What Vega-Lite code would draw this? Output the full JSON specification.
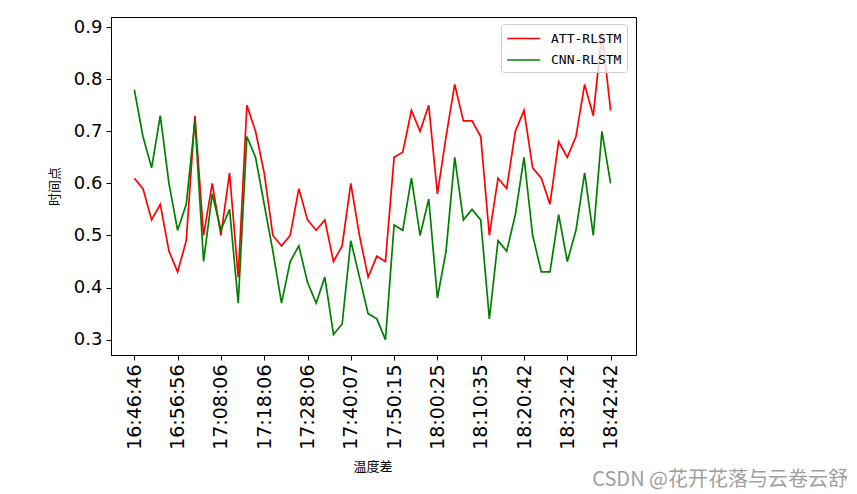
{
  "$schema": "https://vega.github.io/schema/vega-lite/v6.json",
  "width": 525,
  "height": 338,
  "autosize": "none",
  "padding": {"left": 111, "top": 17, "right": 221, "bottom": 139},
  "background": "white",
  "title": {
    "text": "CSDN @花开花落与云卷云舒",
    "orient": "bottom",
    "anchor": "end",
    "frame": "group",
    "dx": 212,
    "dy": -11,
    "offset": 8,
    "font": "Noto Sans CJK SC",
    "fontSize": 20,
    "fontWeight": "normal",
    "color": "#a0a0a0"
  },
  "data": {
    "values": [
      {"time": "16:46:46", "ATT-RLSTM": 0.61, "CNN-RLSTM": 0.78},
      {"time": "16:48:48", "ATT-RLSTM": 0.59, "CNN-RLSTM": 0.69},
      {"time": "16:50:50", "ATT-RLSTM": 0.53, "CNN-RLSTM": 0.63},
      {"time": "16:52:52", "ATT-RLSTM": 0.56, "CNN-RLSTM": 0.73},
      {"time": "16:54:54", "ATT-RLSTM": 0.47, "CNN-RLSTM": 0.60},
      {"time": "16:56:56", "ATT-RLSTM": 0.43, "CNN-RLSTM": 0.51},
      {"time": "16:59:10", "ATT-RLSTM": 0.49, "CNN-RLSTM": 0.56},
      {"time": "17:01:24", "ATT-RLSTM": 0.73, "CNN-RLSTM": 0.72},
      {"time": "17:03:38", "ATT-RLSTM": 0.50, "CNN-RLSTM": 0.45},
      {"time": "17:05:52", "ATT-RLSTM": 0.60, "CNN-RLSTM": 0.58},
      {"time": "17:08:06", "ATT-RLSTM": 0.50, "CNN-RLSTM": 0.51},
      {"time": "17:10:06", "ATT-RLSTM": 0.62, "CNN-RLSTM": 0.55},
      {"time": "17:12:06", "ATT-RLSTM": 0.42, "CNN-RLSTM": 0.37},
      {"time": "17:14:06", "ATT-RLSTM": 0.75, "CNN-RLSTM": 0.69},
      {"time": "17:16:06", "ATT-RLSTM": 0.70, "CNN-RLSTM": 0.65},
      {"time": "17:18:06", "ATT-RLSTM": 0.62, "CNN-RLSTM": 0.56},
      {"time": "17:20:06", "ATT-RLSTM": 0.50, "CNN-RLSTM": 0.47},
      {"time": "17:22:06", "ATT-RLSTM": 0.48, "CNN-RLSTM": 0.37},
      {"time": "17:24:06", "ATT-RLSTM": 0.50, "CNN-RLSTM": 0.45},
      {"time": "17:26:06", "ATT-RLSTM": 0.59, "CNN-RLSTM": 0.48},
      {"time": "17:28:06", "ATT-RLSTM": 0.53, "CNN-RLSTM": 0.41},
      {"time": "17:30:30", "ATT-RLSTM": 0.51, "CNN-RLSTM": 0.37},
      {"time": "17:32:54", "ATT-RLSTM": 0.53, "CNN-RLSTM": 0.42},
      {"time": "17:35:18", "ATT-RLSTM": 0.45, "CNN-RLSTM": 0.31},
      {"time": "17:37:43", "ATT-RLSTM": 0.48, "CNN-RLSTM": 0.33},
      {"time": "17:40:07", "ATT-RLSTM": 0.60, "CNN-RLSTM": 0.49},
      {"time": "17:42:09", "ATT-RLSTM": 0.50, "CNN-RLSTM": 0.42},
      {"time": "17:44:10", "ATT-RLSTM": 0.42, "CNN-RLSTM": 0.35},
      {"time": "17:46:12", "ATT-RLSTM": 0.46, "CNN-RLSTM": 0.34},
      {"time": "17:48:13", "ATT-RLSTM": 0.45, "CNN-RLSTM": 0.30},
      {"time": "17:50:15", "ATT-RLSTM": 0.65, "CNN-RLSTM": 0.52},
      {"time": "17:52:17", "ATT-RLSTM": 0.66, "CNN-RLSTM": 0.51},
      {"time": "17:54:19", "ATT-RLSTM": 0.74, "CNN-RLSTM": 0.61},
      {"time": "17:56:21", "ATT-RLSTM": 0.70, "CNN-RLSTM": 0.50},
      {"time": "17:58:23", "ATT-RLSTM": 0.75, "CNN-RLSTM": 0.57},
      {"time": "18:00:25", "ATT-RLSTM": 0.58, "CNN-RLSTM": 0.38},
      {"time": "18:02:27", "ATT-RLSTM": 0.69, "CNN-RLSTM": 0.47},
      {"time": "18:04:29", "ATT-RLSTM": 0.79, "CNN-RLSTM": 0.65},
      {"time": "18:06:31", "ATT-RLSTM": 0.72, "CNN-RLSTM": 0.53},
      {"time": "18:08:33", "ATT-RLSTM": 0.72, "CNN-RLSTM": 0.55},
      {"time": "18:10:35", "ATT-RLSTM": 0.69, "CNN-RLSTM": 0.53},
      {"time": "18:12:36", "ATT-RLSTM": 0.50, "CNN-RLSTM": 0.34},
      {"time": "18:14:38", "ATT-RLSTM": 0.61, "CNN-RLSTM": 0.49},
      {"time": "18:16:39", "ATT-RLSTM": 0.59, "CNN-RLSTM": 0.47},
      {"time": "18:18:41", "ATT-RLSTM": 0.70, "CNN-RLSTM": 0.54},
      {"time": "18:20:42", "ATT-RLSTM": 0.74, "CNN-RLSTM": 0.65},
      {"time": "18:23:06", "ATT-RLSTM": 0.63, "CNN-RLSTM": 0.50},
      {"time": "18:25:30", "ATT-RLSTM": 0.61, "CNN-RLSTM": 0.43},
      {"time": "18:27:54", "ATT-RLSTM": 0.56, "CNN-RLSTM": 0.43},
      {"time": "18:30:18", "ATT-RLSTM": 0.68, "CNN-RLSTM": 0.54},
      {"time": "18:32:42", "ATT-RLSTM": 0.65, "CNN-RLSTM": 0.45},
      {"time": "18:34:42", "ATT-RLSTM": 0.69, "CNN-RLSTM": 0.51},
      {"time": "18:36:42", "ATT-RLSTM": 0.79, "CNN-RLSTM": 0.62},
      {"time": "18:38:42", "ATT-RLSTM": 0.73, "CNN-RLSTM": 0.50},
      {"time": "18:40:42", "ATT-RLSTM": 0.89, "CNN-RLSTM": 0.70},
      {"time": "18:42:42", "ATT-RLSTM": 0.74, "CNN-RLSTM": 0.60}
    ]
  },
  "transform": [
    {"fold": ["ATT-RLSTM", "CNN-RLSTM"], "as": ["model", "value"]}
  ],
  "mark": {"type": "line", "strokeWidth": 1.7, "clip": true},
  "encoding": {
    "x": {
      "field": "time",
      "type": "ordinal",
      "sort": null,
      "scale": {"type": "point", "range": [23.3, 499.6], "padding": 0},
      "axis": {
        "title": "温度差",
        "titleFont": "Noto Sans CJK SC",
        "titleFontSize": 13,
        "titleFontWeight": "normal",
        "titleColor": "black",
        "titlePadding": 11,
        "values": ["16:46:46", "16:56:56", "17:08:06", "17:18:06", "17:28:06", "17:40:07", "17:50:15", "18:00:25", "18:10:35", "18:20:42", "18:32:42", "18:42:42"],
        "labelAngle": -90,
        "labelFont": "DejaVu Sans",
        "labelFontSize": 19,
        "labelColor": "black",
        "labelPadding": 4,
        "tickSize": 5,
        "tickColor": "black",
        "domainColor": "black",
        "grid": false
      }
    },
    "y": {
      "field": "value",
      "type": "quantitative",
      "scale": {"domain": [0.2705, 0.9195], "nice": false, "zero": false},
      "axis": {
        "title": "时间点",
        "titleFont": "Noto Sans CJK SC",
        "titleFontSize": 13,
        "titleFontWeight": "normal",
        "titleColor": "black",
        "titlePadding": 12,
        "values": [0.3, 0.4, 0.5, 0.6, 0.7, 0.8, 0.9],
        "format": ".1f",
        "labelFont": "DejaVu Sans",
        "labelFontSize": 18,
        "labelColor": "black",
        "labelPadding": 4,
        "tickSize": 5,
        "tickColor": "black",
        "domainColor": "black",
        "grid": false
      }
    },
    "color": {
      "field": "model",
      "type": "nominal",
      "scale": {"domain": ["ATT-RLSTM", "CNN-RLSTM"], "range": ["#ff0000", "#008000"]},
      "legend": {
        "title": null,
        "orient": "none",
        "legendX": 390,
        "legendY": 7,
        "symbolType": "M-1,0H3",
        "symbolSize": 272,
        "symbolStrokeWidth": 1.7,
        "symbolFillColor": "transparent",
        "labelFont": "DejaVu Sans Mono",
        "labelFontSize": 13,
        "labelColor": "black",
        "labelOffset": 26,
        "rowPadding": 4.5,
        "padding": 5,
        "fillColor": "rgba(255,255,255,0.8)",
        "strokeColor": "#cccccc",
        "cornerRadius": 3
      }
    }
  },
  "config": {
    "view": {"stroke": "black", "strokeWidth": 1}
  }
}
